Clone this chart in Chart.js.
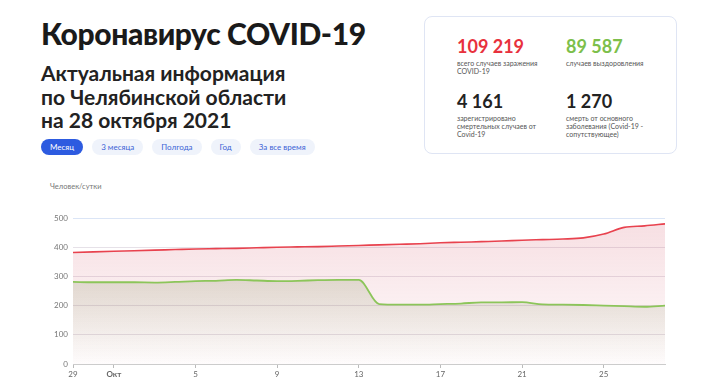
<!DOCTYPE html>
<html>
<head>
<meta charset="utf-8">
<script src="https://cdn.jsdelivr.net/npm/chart.js@4/dist/chart.umd.min.js"></script>
<style>
  body { margin: 0; width: 725px; height: 390px; background: #fff; font-family: Lato, "Noto Sans", sans-serif; position: relative; overflow: hidden; }
  .title { position: absolute; left: 41px; top: 15px; font-size: 30px; font-weight: 900; color: #1a1a1a; line-height: 36px; letter-spacing: -0.4px; }
  .sub { position: absolute; left: 41px; top: 61px; font-size: 21px; font-weight: 700; color: #222; line-height: 23.5px; }
  .tabs { position: absolute; left: 41px; top: 139px; display: flex; gap: 9px; }
  .tab { height: 16px; line-height: 16px; padding: 0 9px; border-radius: 8px; font-size: 8px; color: #3b62d6; background: #eff3fb; }
  .tab.on { background: #2d5be0; color: #fff; }
  .card { position: absolute; left: 424px; top: 16px; width: 253px; height: 138px; border: 1px solid #dfe5f4; border-radius: 8px; box-sizing: border-box; }
  .stat { position: absolute; }
  .stat b { display: block; font-size: 18px; font-weight: 700; line-height: 20px; }
  .stat span { display: block; font-size: 7px; line-height: 8px; color: #555; margin-top: 3px; }
  .ylab { position: absolute; left: 50px; top: 182px; font-size: 7.5px; color: #777; }
  #wrap { position: absolute; left: 0; top: 200px; width: 725px; height: 190px; }
</style>
</head>
<body>
<div class="title">Коронавирус COVID-19</div>
<div class="sub">Актуальная информация<br>по Челябинской области<br>на 28 октября 2021</div>
<div class="tabs">
  <div class="tab on">Месяц</div>
  <div class="tab">3 месяца</div>
  <div class="tab">Полгода</div>
  <div class="tab">Год</div>
  <div class="tab">За все время</div>
</div>
<div class="card">
  <div class="stat" style="left:32px;top:19px"><b style="color:#e8313d">109 219</b><span>всего случаев заражения<br>COVID-19</span></div>
  <div class="stat" style="left:141px;top:19px"><b style="color:#7dbf4b">89 587</b><span>случаев выздоровления</span></div>
  <div class="stat" style="left:32px;top:74px"><b style="color:#222">4 161</b><span>зарегистрировано<br>смертельных случаев от<br>Covid-19</span></div>
  <div class="stat" style="left:141px;top:74px"><b style="color:#222">1 270</b><span>смерть от основного<br>заболевания (Covid-19 -<br>сопутствующее)</span></div>
</div>
<div class="ylab">Человек/сутки</div>
<div id="wrap"><canvas id="c"></canvas></div>
<script>
const days = ["29", "30", "Окт", "2", "3", "4", "5", "6", "7", "8", "9", "10", "11", "12", "13",
  "14", "15", "16", "17", "18", "19", "20", "21", "22", "23", "24", "25", "26", "27", "28"];
const shownDays = ["29", "Окт", "5", "9", "13", "17", "21", "25"];
const infected = [382, 384, 386, 388, 390, 392, 394, 395, 396, 398, 400, 401, 402, 404, 406,
  408, 410, 412, 415, 417, 419, 421, 424, 426, 428, 432, 445, 468, 473, 480];
const recovered = [281, 280, 280, 280, 279, 281, 284, 285, 288, 286, 284, 285, 287, 288, 288,
  205, 203, 203, 205, 207, 211, 211, 212, 204, 203, 202, 200, 198, 196, 200];
const yTicks = [0, 100, 200, 300, 400, 500];

function grad(chart, top, bottom) {
  const area = chart.chartArea;
  if (!area) return top;
  const g = chart.ctx.createLinearGradient(0, area.top, 0, area.bottom);
  g.addColorStop(0, top);
  g.addColorStop(1, bottom);
  return g;
}

new Chart(document.getElementById("c"), {
  type: "line",
  data: {
    labels: days,
    datasets: [
      {
        data: recovered,
        borderColor: "#8cc55a",
        borderWidth: 1.8,
        fill: "origin",
        backgroundColor: (c) => grad(c.chart, "rgba(105,120,60,0.3)", "rgba(105,120,60,0)"),
        pointRadius: 0,
        cubicInterpolationMode: "monotone",
      },
      {
        data: infected,
        borderColor: "#e8424e",
        borderWidth: 1.6,
        fill: "origin",
        backgroundColor: (c) => grad(c.chart, "rgba(210,80,100,0.19)", "rgba(210,80,100,0.02)"),
        pointRadius: 0,
        cubicInterpolationMode: "monotone",
      },
    ],
  },
  options: {
    responsive: true,
    maintainAspectRatio: false,
    animation: false,
    layout: { padding: { left: 0, right: 60, top: 18, bottom: 0 } },
    plugins: { legend: { display: false }, tooltip: { enabled: false } },
    scales: {
      x: {
        offset: false,
        afterBuildTicks: (s) => { s.ticks = s.ticks.filter((t) => shownDays.includes(days[t.value])); },
        afterFit: (s) => { s.height = 26; },
        ticks: {
          autoSkip: false,
          maxRotation: 0,
          padding: 2,
          color: "#666",
          font: (c) => ({ size: 8, family: "Lato, 'Noto Sans', sans-serif", weight: c.tick && days[c.tick.value] === "Окт" ? "bold" : "normal" }),
        },
        grid: { drawOnChartArea: false, tickLength: 4, color: "#bbb" },
        border: { color: "#ccc" },
      },
      y: {
        min: 0,
        max: 500,
        afterFit: (s) => { s.width = 73; },
        afterBuildTicks: (s) => { s.ticks = yTicks.map((v) => ({ value: v })); },
        ticks: { color: "#777", padding: 5, font: { size: 8, family: "Lato, 'Noto Sans', sans-serif" } },
        grid: {
          color: (c) => (c.tick && c.tick.value === 500 ? "#dbe5f6" : c.tick && c.tick.value === 0 ? "#ccc" : "#e6e1e8"),
          tickLength: 4,
          drawTicks: false,
        },
        border: { display: false },
      },
    },
  },
});
</script>
</body>
</html>
